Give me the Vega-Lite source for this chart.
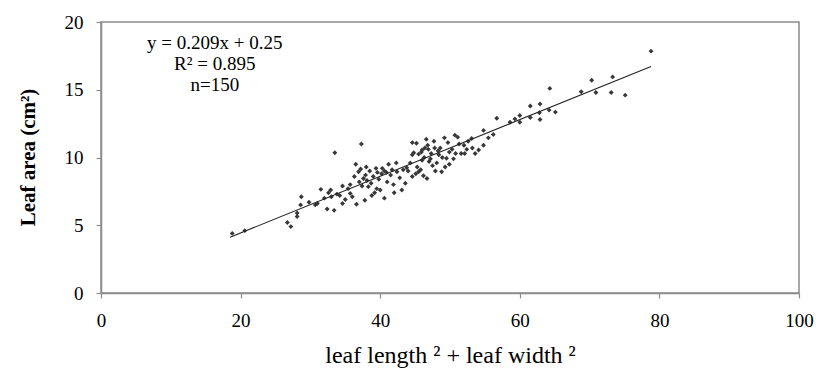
{
  "$schema": "https://vega.github.io/schema/vega-lite/v6.json",
  "width": 698,
  "height": 271,
  "autosize": {"type": "none"},
  "padding": {"left": 101, "top": 22, "right": 19, "bottom": 79},
  "background": "white",
  "config": {
    "view": {"stroke": "#8c8c8c", "strokeWidth": 1.5},
    "font": "Liberation Serif"
  },
  "datasets": {
    "pts": [
      {"x": 18.8, "y": 4.4}, {"x": 20.6, "y": 4.6}, {"x": 26.7, "y": 5.2}, {"x": 27.2, "y": 4.9},
      {"x": 28.1, "y": 5.9}, {"x": 28.1, "y": 5.65}, {"x": 28.6, "y": 6.5}, {"x": 28.7, "y": 7.1},
      {"x": 29.8, "y": 6.7}, {"x": 30.7, "y": 6.5}, {"x": 31.0, "y": 6.6}, {"x": 31.5, "y": 7.65},
      {"x": 32.0, "y": 7.0}, {"x": 32.4, "y": 6.2}, {"x": 32.6, "y": 7.4}, {"x": 33.0, "y": 7.1},
      {"x": 33.4, "y": 6.1}, {"x": 33.5, "y": 10.35}, {"x": 32.9, "y": 7.6}, {"x": 33.8, "y": 7.3},
      {"x": 34.6, "y": 7.9}, {"x": 34.6, "y": 6.6}, {"x": 34.2, "y": 7.2}, {"x": 35.0, "y": 6.9},
      {"x": 35.7, "y": 8.0}, {"x": 35.7, "y": 7.35}, {"x": 35.4, "y": 7.7}, {"x": 36.5, "y": 9.5},
      {"x": 36.6, "y": 6.55}, {"x": 36.9, "y": 8.95}, {"x": 37.2, "y": 9.15}, {"x": 37.6, "y": 8.45},
      {"x": 37.3, "y": 11.0}, {"x": 37.0, "y": 8.2}, {"x": 37.8, "y": 6.85}, {"x": 37.9, "y": 8.7},
      {"x": 38.3, "y": 7.85}, {"x": 38.1, "y": 8.3}, {"x": 38.8, "y": 7.2}, {"x": 38.5, "y": 9.0},
      {"x": 39.0, "y": 8.6}, {"x": 39.4, "y": 9.2}, {"x": 39.5, "y": 7.7}, {"x": 39.2, "y": 7.4},
      {"x": 39.8, "y": 8.4}, {"x": 40.2, "y": 8.8}, {"x": 40.6, "y": 9.0}, {"x": 40.6, "y": 7.0},
      {"x": 40.9, "y": 8.9}, {"x": 41.2, "y": 9.5}, {"x": 41.5, "y": 8.7}, {"x": 41.9, "y": 8.0},
      {"x": 42.3, "y": 9.6}, {"x": 42.4, "y": 8.95}, {"x": 43.1, "y": 7.6}, {"x": 43.3, "y": 9.1},
      {"x": 43.8, "y": 9.25}, {"x": 42.8, "y": 8.5}, {"x": 43.6, "y": 8.1},
      {"x": 44.6, "y": 11.1}, {"x": 44.8, "y": 10.35}, {"x": 44.6, "y": 10.2}, {"x": 44.6, "y": 8.6},
      {"x": 45.2, "y": 11.05}, {"x": 45.1, "y": 8.8}, {"x": 45.5, "y": 10.25}, {"x": 45.5, "y": 8.95},
      {"x": 45.9, "y": 10.4}, {"x": 46.0, "y": 10.55}, {"x": 46.0, "y": 9.8}, {"x": 46.2, "y": 8.65},
      {"x": 46.4, "y": 10.7}, {"x": 46.6, "y": 11.35}, {"x": 46.7, "y": 8.45}, {"x": 46.9, "y": 10.6},
      {"x": 47.0, "y": 9.7}, {"x": 47.3, "y": 10.3}, {"x": 47.7, "y": 11.2}, {"x": 47.9, "y": 9.0},
      {"x": 47.5, "y": 9.4}, {"x": 48.3, "y": 10.5}, {"x": 48.4, "y": 10.2}, {"x": 48.6, "y": 10.7},
      {"x": 48.8, "y": 8.95}, {"x": 49.2, "y": 11.45}, {"x": 49.5, "y": 9.95}, {"x": 49.7, "y": 11.1},
      {"x": 49.9, "y": 10.4}, {"x": 50.3, "y": 10.6}, {"x": 50.7, "y": 11.65}, {"x": 51.1, "y": 11.5},
      {"x": 50.5, "y": 9.9}, {"x": 51.6, "y": 10.3}, {"x": 52.0, "y": 10.9}, {"x": 52.1, "y": 10.3},
      {"x": 52.4, "y": 10.6}, {"x": 53.1, "y": 11.4}, {"x": 53.6, "y": 10.3}, {"x": 54.1, "y": 10.55},
      {"x": 54.8, "y": 10.9}, {"x": 54.8, "y": 12.0}, {"x": 55.5, "y": 11.45},
      {"x": 56.7, "y": 12.9}, {"x": 58.6, "y": 12.6}, {"x": 59.3, "y": 12.85}, {"x": 60.0, "y": 13.1},
      {"x": 60.0, "y": 12.6}, {"x": 61.5, "y": 13.8}, {"x": 61.5, "y": 12.95}, {"x": 62.8, "y": 13.3},
      {"x": 62.9, "y": 13.95}, {"x": 62.9, "y": 12.8}, {"x": 64.2, "y": 13.5}, {"x": 64.3, "y": 15.1},
      {"x": 65.1, "y": 13.35}, {"x": 68.8, "y": 14.85}, {"x": 70.3, "y": 15.7}, {"x": 70.9, "y": 14.8},
      {"x": 73.1, "y": 14.8}, {"x": 73.3, "y": 15.95}, {"x": 75.1, "y": 14.6}, {"x": 78.8, "y": 17.85},
      {"x": 36.0, "y": 7.1}, {"x": 36.3, "y": 8.6}, {"x": 37.4, "y": 7.9}, {"x": 38.0, "y": 9.3},
      {"x": 38.7, "y": 8.1}, {"x": 39.6, "y": 8.9}, {"x": 40.0, "y": 7.6}, {"x": 40.3, "y": 9.2},
      {"x": 41.0, "y": 8.2}, {"x": 41.7, "y": 9.1}, {"x": 42.0, "y": 7.4}, {"x": 44.0, "y": 9.0},
      {"x": 44.3, "y": 9.6}, {"x": 45.3, "y": 9.3}, {"x": 45.8, "y": 9.1}, {"x": 46.3, "y": 10.0},
      {"x": 46.8, "y": 10.9}, {"x": 47.2, "y": 9.9}, {"x": 47.8, "y": 10.7}, {"x": 48.1, "y": 9.6},
      {"x": 48.9, "y": 10.0}, {"x": 49.3, "y": 9.3}, {"x": 49.9, "y": 9.5}, {"x": 50.8, "y": 10.3},
      {"x": 51.3, "y": 11.0}, {"x": 52.6, "y": 11.2}, {"x": 53.2, "y": 10.7}, {"x": 56.2, "y": 11.7}
    ],
    "fit": [{"x": 18.5, "y": 4.12}, {"x": 78.8, "y": 16.72}],
    "notes": [
      {"x": 16.3, "y": 18.45, "t": "y = 0.209x + 0.25"},
      {"x": 16.3, "y": 16.9, "t": "R² = 0.895"},
      {"x": 16.3, "y": 15.35, "t": "n=150"}
    ]
  },
  "layer": [
    {
      "data": {"name": "pts"},
      "mark": {"type": "point", "shape": "diamond", "filled": true, "size": 24, "color": "#383838", "opacity": 1},
      "encoding": {
        "x": {
          "field": "x", "type": "quantitative",
          "scale": {"domain": [0, 100], "nice": false, "zero": true},
          "axis": {
            "values": [0, 20, 40, 60, 80, 100],
            "grid": false,
            "title": "leaf length ² + leaf width ²",
            "titleFont": "Liberation Serif", "titleFontSize": 24, "titleFontWeight": "normal", "titleColor": "#000",
            "titleY": 62, "titleBaseline": "middle",
            "labelFont": "Liberation Serif", "labelFontSize": 19, "labelColor": "#000", "labelPadding": 13,
            "domainColor": "#8c8c8c", "domainWidth": 1.5, "tickColor": "#8c8c8c", "tickSize": 5, "tickWidth": 1.2,
            "labelFlush": false
          }
        },
        "y": {
          "field": "y", "type": "quantitative",
          "scale": {"domain": [0, 20], "nice": false},
          "axis": {
            "values": [0, 5, 10, 15, 20],
            "grid": false,
            "title": "Leaf area (cm²)",
            "titleFont": "Liberation Serif", "titleFontSize": 21, "titleFontWeight": "bold", "titleColor": "#000",
            "titleX": -73, "titleY": 135, "titleAngle": -90, "titleAlign": "center", "titleBaseline": "middle",
            "labelFont": "Liberation Serif", "labelFontSize": 19, "labelColor": "#000", "labelPadding": 13,
            "domainColor": "#8c8c8c", "domainWidth": 1.5, "tickColor": "#8c8c8c", "tickSize": 5, "tickWidth": 1.2
          }
        }
      }
    },
    {
      "data": {"name": "fit"},
      "mark": {"type": "line", "color": "#222", "strokeWidth": 1.1},
      "encoding": {
        "x": {"field": "x", "type": "quantitative"},
        "y": {"field": "y", "type": "quantitative"}
      }
    },
    {
      "data": {"name": "notes"},
      "mark": {"type": "text", "font": "Liberation Serif", "fontSize": 19, "color": "#000", "align": "center", "baseline": "middle"},
      "encoding": {
        "x": {"field": "x", "type": "quantitative"},
        "y": {"field": "y", "type": "quantitative"},
        "text": {"field": "t"}
      }
    }
  ]
}
